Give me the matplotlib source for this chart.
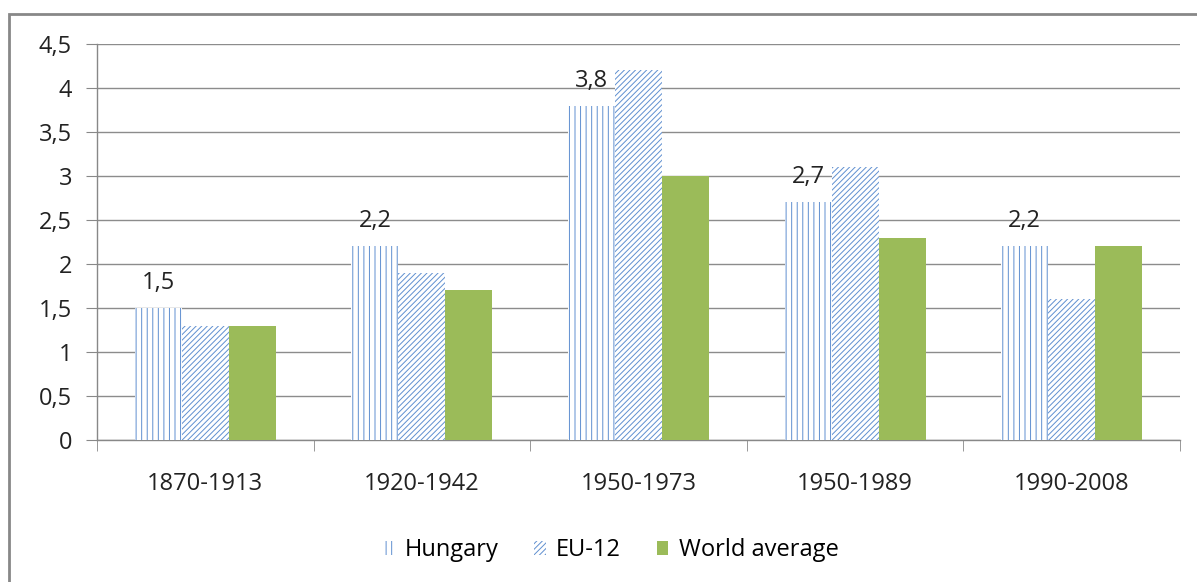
import matplotlib
matplotlib.use("Agg")
import matplotlib.pyplot as plt
import numpy as np
from matplotlib.patches import Rectangle, Patch

categories = ["1870-1913", "1920-1942", "1950-1973", "1950-1989", "1990-2008"]
hungary = [1.5, 2.2, 3.8, 2.7, 2.2]
eu12 = [1.3, 1.9, 4.2, 3.1, 1.6]
world = [1.3, 1.7, 3.0, 2.3, 2.2]
yticks = [0, 0.5, 1, 1.5, 2, 2.5, 3, 3.5, 4, 4.5]
ytick_labels = ["0", "0,5", "1", "1,5", "2", "2,5", "3", "3,5", "4", "4,5"]

plt.rcParams['font.family'] = ['Open Sans', 'DejaVu Sans']
plt.rcParams['hatch.linewidth'] = 0.7

W, H = 1197, 582
fig = plt.figure(figsize=(W/100, H/100), dpi=100)
ax = fig.add_axes([97/W, 1-440/H, (1180-97)/W, (440-44)/H])

x = np.arange(len(categories))
bw = 0.217
blue = '#5F8FD0'
green = '#9BBB59'
fs = 17

ax.bar(x - bw, hungary, bw, facecolor='white', edgecolor=blue, hatch='|||', linewidth=0, zorder=3)
ax.bar(x, eu12, bw, facecolor='white', edgecolor=blue, hatch='//////', linewidth=0, zorder=3)
ax.bar(x + bw, world, bw, facecolor=green, edgecolor=green, linewidth=0, zorder=3)

for xi, v in zip(x - bw, hungary):
    ax.annotate(f"{v:.1f}".replace('.', ','), (xi, v), xytext=(0, 18), textcoords='offset points',
                ha='center', va='center', fontsize=fs, color='#222222', zorder=4)

ax.set_xlim(-0.5, len(categories) - 0.5)
ax.set_ylim(0, 4.5)
ax.set_yticks(yticks)
ax.set_yticklabels(ytick_labels)
ax.set_xticks(x)
ax.set_xticklabels(categories)
ax.set_xticks(np.arange(len(categories) + 1) - 0.5, minor=True)
ax.tick_params(axis='x', which='major', length=0, pad=23, labelsize=fs, colors='#222222')
ax.tick_params(axis='x', which='minor', length=8, color='#888888')
ax.tick_params(axis='y', length=8, color='#888888', pad=10, labelsize=fs, colors='#222222')
ax.grid(axis='y', color='#8C8C8C', linewidth=1, zorder=0)
for s in ['top', 'right']:
    ax.spines[s].set_visible(False)
for s in ['left', 'bottom']:
    ax.spines[s].set_color('#888888')
    ax.spines[s].set_linewidth(1)

handles = [Patch(facecolor='white', edgecolor=blue, hatch='|||', linewidth=0),
           Patch(facecolor='white', edgecolor=blue, hatch='//////', linewidth=0),
           Patch(facecolor=green, edgecolor=green, linewidth=0)]
fig.legend(handles, ["Hungary", "EU-12", "World average"], loc='center', bbox_to_anchor=(0.51, 1-550/H),
           ncol=3, frameon=False, fontsize=fs, handlelength=0.5, handleheight=0.55,
           handletextpad=0.45, columnspacing=1.5)

fig.patches.append(Rectangle((9/W, -0.1), 1.2, 1 - 14/H + 0.1, transform=fig.transFigure,
                             fill=False, edgecolor='#888888', linewidth=2))

fig.savefig("out.png", dpi=100, facecolor='white')
